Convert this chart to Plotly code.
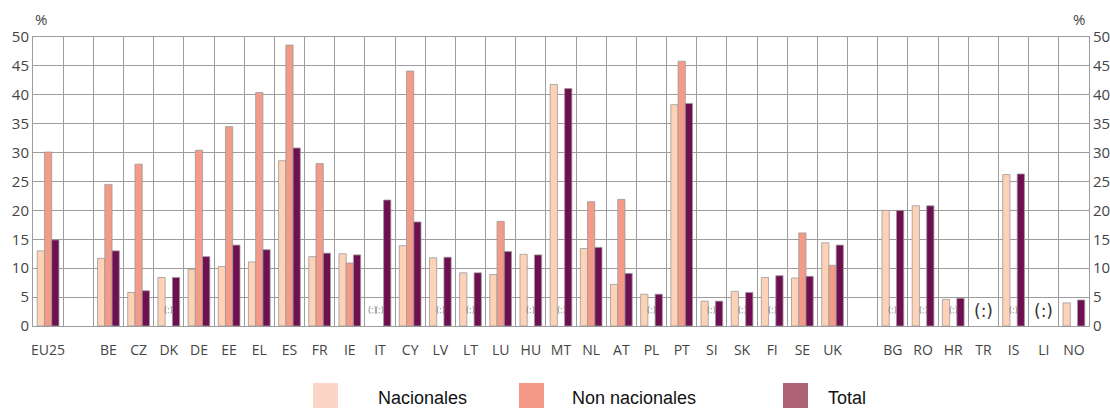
import plotly.graph_objects as go

categories = ["EU25", " ", "BE", "CZ", "DK", "DE", "EE", "EL", "ES", "FR", "IE", "IT", "CY",
              "LV", "LT", "LU", "HU", "MT", "NL", "AT", "PL", "PT", "SI", "SK", "FI", "SE", "UK",
              "  ", "BG", "RO", "HR", "TR", "IS", "LI", "NO"]
nacionales = [13.0, None, 11.7, 5.8, 8.4, 9.8, 10.3, 11.1, 28.6, 12.0, 12.5, None, 13.9,
              11.8, 9.2, 8.9, 12.4, 41.8, 13.4, 7.2, 5.5, 38.3, 4.3, 6.0, 8.4, 8.3, 14.4,
              None, 20.0, 20.8, 4.6, None, 26.2, None, 4.0]
non_nacionales = [30.1, None, 24.5, 28.0, None, 30.4, 34.5, 40.4, 48.6, 28.1, 10.9, None, 44.1,
                  None, None, 18.1, None, None, 21.5, 21.9, None, 45.8, None, None, None, 16.1, 10.5,
                  None, None, None, None, None, None, None, None]
total = [14.9, None, 13.0, 6.1, 8.4, 12.0, 14.0, 13.2, 30.8, 12.6, 12.3, 21.8, 18.0,
         11.9, 9.2, 12.9, 12.3, 41.1, 13.6, 9.1, 5.5, 38.5, 4.3, 5.8, 8.7, 8.6, 14.0,
         None, 20.0, 20.8, 4.8, None, 26.3, None, 4.5]
series_names = ["Nacionales", "Non nacionales", "Total"]
y_ticks = [0, 5, 10, 15, 20, 25, 30, 35, 40, 45, 50]

# missing-value markers "(:)": (category, series index)
missing_small = [("DK", 1), ("IT", 0), ("IT", 1), ("LV", 1), ("LT", 1), ("HU", 1), ("MT", 1),
                 ("PL", 1), ("SI", 1), ("SK", 1), ("FI", 1), ("BG", 1), ("RO", 1), ("HR", 1),
                 ("IS", 1)]
missing_all = ["TR", "LI"]

bar_colors = ["#FDD2B6", "#F39A88", "#6E0F50"]
legend_colors = ["#FDD5C6", "#F59A88", "#AD6373"]

W, H = 1110, 408
L, R, T, B = 33, 21, 37, 82
pw, ph = W - L - R, H - T - B
bargap = 0.28

fig = go.Figure()
for name, vals, col in zip(series_names, [nacionales, non_nacionales, total], bar_colors):
    fig.add_trace(go.Bar(x=categories, y=vals, name=name, marker_color=col,
                         marker_line=dict(color="#9a9a9a", width=0.8), showlegend=False))
fig.add_trace(go.Scatter(x=[categories[0]], y=[None], yaxis="y2", showlegend=False,
                         hoverinfo="skip"))

slot = pw / len(categories)
bw = slot * (1 - bargap) / 3
annotations = []
for cat, si in missing_small:
    annotations.append(dict(x=cat, y=2.6, xref="x", yref="y", text="(:)", showarrow=False,
                            xanchor="center", yanchor="middle", xshift=(si - 1) * bw,
                            font=dict(size=8, color="#777", family="DejaVu Sans")))
for cat in missing_all:
    annotations.append(dict(x=cat, y=2.6, xref="x", yref="y", text="(:)", showarrow=False,
                            xanchor="center", yanchor="middle",
                            font=dict(size=17, color="#333", family="DejaVu Sans")))

def px_x(p):
    return (p - L) / pw

def px_y(p):
    return (H - B - p) / ph

for px in (41, 1079):
    annotations.append(dict(x=px_x(px), y=px_y(19), xref="paper", yref="paper", text="%",
                            xanchor="center", yanchor="middle", showarrow=False,
                            font=dict(size=15, color="#444", family="Open Sans")))

shapes = []
leg_sq = [313, 519, 783]
leg_tx = [376, 570, 826]
for name, col, sx, tx in zip(series_names, legend_colors, leg_sq, leg_tx):
    shapes.append(dict(type="rect", xref="paper", yref="paper", x0=px_x(sx), x1=px_x(sx + 25),
                       y0=px_y(409), y1=px_y(383), fillcolor=col, line=dict(width=0)))
    annotations.append(dict(x=px_x(tx), y=px_y(398), xref="paper", yref="paper", text=name,
                            xanchor="left", yanchor="middle", showarrow=False,
                            font=dict(size=18, color="#111", family="Liberation Sans")))

fig.update_layout(
    width=W, height=H, margin=dict(l=L, r=R, t=T, b=B, autoexpand=False),
    barmode="group", bargap=bargap, bargroupgap=0,
    plot_bgcolor="white", paper_bgcolor="white",
    font=dict(family="Open Sans", color="#444"),
    xaxis=dict(type="category", categoryorder="array", categoryarray=categories,
               range=[-0.5, len(categories) - 0.5], autorange=False,
               tickson="boundaries", showgrid=True, gridcolor="#9c9c9c", gridwidth=1,
               ticks="", ticklabelstandoff=11, tickangle=0, automargin=False,
               tickfont=dict(size=14, color="#444"),
               showline=True, linecolor="#9c9c9c", linewidth=1, mirror=True),
    yaxis=dict(range=[0, 50], tickvals=y_ticks, showgrid=True, gridcolor="#9c9c9c", gridwidth=1,
               ticks="", tickfont=dict(size=15, color="#444"), zeroline=False, automargin=False,
               showline=True, linecolor="#9c9c9c", linewidth=1),
    yaxis2=dict(range=[0, 50], tickvals=y_ticks, overlaying="y", side="right", showgrid=False,
                ticks="", tickfont=dict(size=15, color="#444"), zeroline=False, automargin=False,
                showline=True, linecolor="#9c9c9c", linewidth=1),
    shapes=shapes, annotations=annotations,
)
fig.write_html("out.html", config={"displayModeBar": False},
               post_script="document.body.style.margin='0';")
